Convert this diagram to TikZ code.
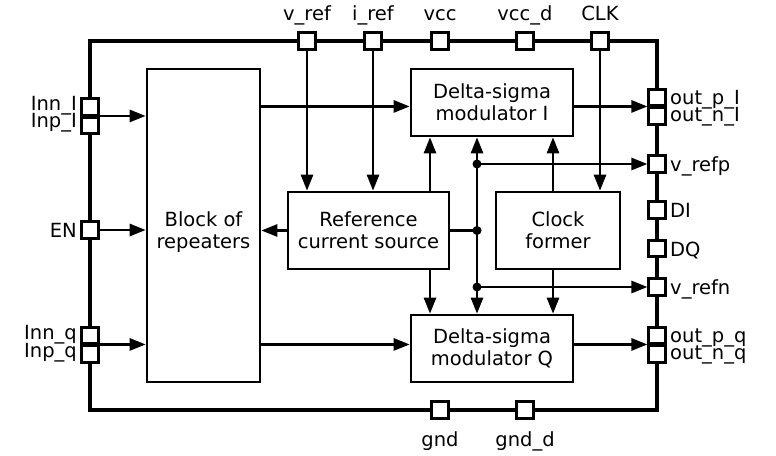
\documentclass[tikz,border=0pt]{standalone}
\usepackage{fontspec}
\setmainfont{DejaVu Sans}
\usetikzlibrary{arrows.meta}
\begin{document}
\begin{tikzpicture}[
x=1pt, y=-1pt,
every node/.style={font=\fontsize{19.5}{22}\selectfont},
pin/.style={draw, line width=2.6pt, fill=white, minimum size=16.5pt, inner sep=0pt},
blk/.style={draw, line width=2.6pt, align=center, inner sep=0pt},
lbl/.style={inner sep=0pt},
wire/.style={line width=2.6pt},
conn/.style={line width=2.6pt, -{Triangle[length=16pt,width=12pt]}}
]
\useasboundingbox (0,0) rectangle (776,455);

% frame of the chip
\draw[line width=3.8pt] (90,41) rectangle (657,410);

% blocks
\node[blk, minimum width=113pt, minimum height=313pt] (rep) at (203.5,225.5) {};
\node[lbl, align=center] (reptext) at (203.5,232) {Block of\\repeaters};
\node[blk, minimum width=162pt, minimum height=67pt] (dsmI) at (492,102.5)
{Delta-sigma\\modulator I};
\node[blk, minimum width=162pt, minimum height=67pt] (dsmQ) at (492,348.5)
{Delta-sigma\\modulator Q};
\node[blk, minimum width=161pt, minimum height=77pt] (ref) at (368.5,230.5)
{Reference\\current source};
\node[blk, minimum width=124pt, minimum height=77pt] (clkf) at (558,230.5)
{Clock\\former};

% pins left
\node[pin] (Innl) at (90,107) {};
\node[pin] (Inpl) at (90,125.5) {};
\node[pin] (EN) at (90,230) {};
\node[pin] (Innq) at (90,335.5) {};
\node[pin] (Inpq) at (90,354) {};
% pins top
\node[pin] (vref) at (307,41) {};
\node[pin] (iref) at (373,41) {};
\node[pin] (vcc) at (440,41) {};
\node[pin] (vccd) at (525,41) {};
\node[pin] (clk) at (600,41) {};
% pins right
\node[pin] (outpl) at (657,97.5) {};
\node[pin] (outnl) at (657,116) {};
\node[pin] (vrefp) at (657,164) {};
\node[pin] (DI) at (657,210) {};
\node[pin] (DQ) at (657,248.5) {};
\node[pin] (vrefn) at (657,287) {};
\node[pin] (outpq) at (657,335.5) {};
\node[pin] (outnq) at (657,354) {};
% pins bottom
\node[pin] (gnd) at (440,410) {};
\node[pin] (gndd) at (525,410) {};

% pin labels
\node[lbl, anchor=base east] (lInnl) at (77,110) {Inn\_I};
\node[lbl, anchor=base east] (lInpl) at (77,127) {Inp\_I};
\node[lbl, anchor=base east] (lEN) at (77,237) {EN};
\node[lbl, anchor=base east] (lInnq) at (77,339) {Inn\_q};
\node[lbl, anchor=base east] (lInpq) at (77,357) {Inp\_q};
\node[lbl, anchor=base] (lvref) at (307,20) {v\_ref};
\node[lbl, anchor=base] (liref) at (373,20) {i\_ref};
\node[lbl, anchor=base] (lvcc) at (440,20) {vcc};
\node[lbl, anchor=base] (lvccd) at (525,20) {vcc\_d};
\node[lbl, anchor=base] (lclk) at (600,20) {CLK};
\node[lbl, anchor=base west] (loutpl) at (670,104) {out\_p\_I};
\node[lbl, anchor=base west] (loutnl) at (670,121) {out\_n\_I};
\node[lbl, anchor=base west] (lvrefp) at (670,171) {v\_refp};
\node[lbl, anchor=base west] (lDI) at (670,217) {DI};
\node[lbl, anchor=base west] (lDQ) at (670,256) {DQ};
\node[lbl, anchor=base west] (lvrefn) at (670,294) {v\_refn};
\node[lbl, anchor=base west] (loutpq) at (670,342) {out\_p\_q};
\node[lbl, anchor=base west] (loutnq) at (670,359) {out\_n\_q};
\node[lbl, anchor=base] (lgnd) at (440,446) {gnd};
\node[lbl, anchor=base] (lgndd) at (525,446) {gnd\_d};

% bus of the reference voltages
\coordinate (xr) at (430,0);
\coordinate (xc) at (553,0);
\coordinate (jp) at (477,164);
\coordinate (jm) at (477,230.5);
\coordinate (jn) at (477,287);

% connections
\draw[conn] (Inpl.north east) -- (rep.west |- Inpl.north);
\draw[conn] (EN.east) -- (rep.west |- EN.east);
\draw[conn] (Inpq.north east) -- (rep.west |- Inpq.north);
\draw[conn] (rep.east |- outnl.north) -- (dsmI.west |- outnl.north);
\draw[conn] (rep.east |- outnq.north) -- (dsmQ.west |- outnq.north);
\draw[conn] (dsmI.east |- outnl.north) -- (outnl.north west);
\draw[conn] (dsmQ.east |- outnq.north) -- (outnq.north west);
\draw[conn] (vref.south) -- (ref.north -| vref);
\draw[conn] (iref.south) -- (ref.north -| iref);
\draw[conn] (clk.south) -- (clkf.north -| clk);
\draw[conn] (ref.west) -- (rep.east |- ref.west);
\draw[conn] (ref.north -| xr) -- (dsmI.south -| xr);
\draw[conn] (ref.south -| xr) -- (dsmQ.north -| xr);
\draw[conn] (clkf.north -| xc) -- (dsmI.south -| xc);
\draw[conn] (clkf.south -| xc) -- (dsmQ.north -| xc);
\draw[wire] (ref.east) -- (jm);
\draw[wire] (jp) -- (jn);
\draw[conn] (jp) -- (dsmI.south -| jp);
\draw[conn] (jn) -- (dsmQ.north -| jn);
\draw[conn] (jp) -- (vrefp.west);
\draw[conn] (jn) -- (vrefn.west);
\foreach \j in {jp,jm,jn}
  \fill (\j) circle (4.5pt);

\end{tikzpicture}
\end{document}
